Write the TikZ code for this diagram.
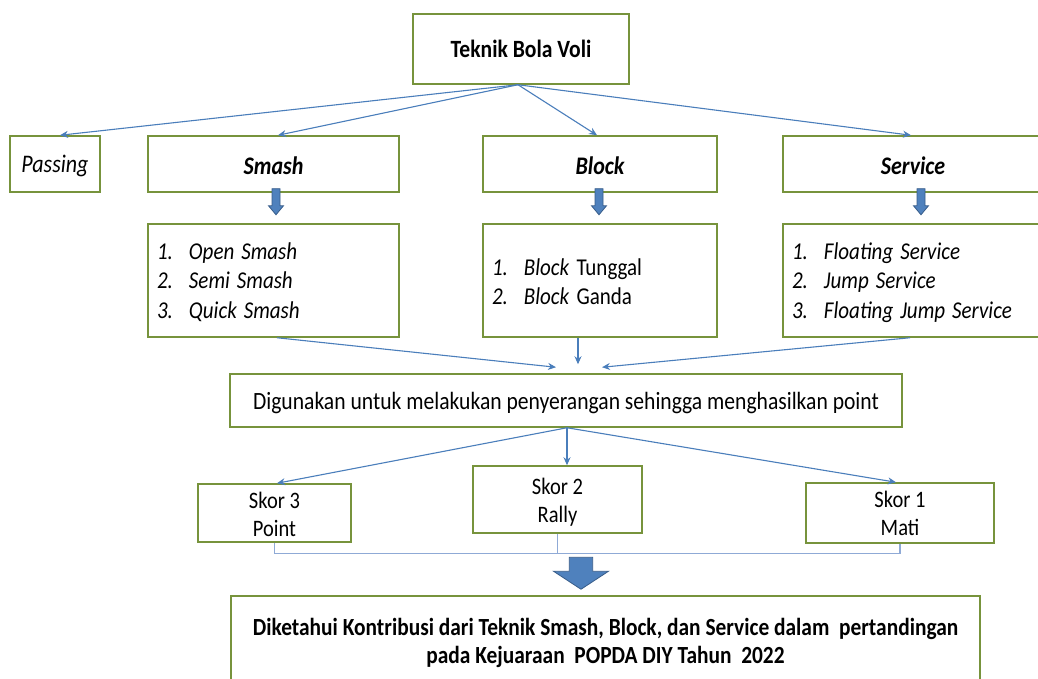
\documentclass[tikz,border=0pt]{standalone}
\usepackage{fontspec}
\setmainfont{Carlito}
\usepackage{graphicx}
\usetikzlibrary{arrows.meta,calc}
\definecolor{boxgreen}{RGB}{119,147,60}
\definecolor{linkblue}{RGB}{74,126,187}
\definecolor{fatblue}{RGB}{79,129,189}
\definecolor{fatedge}{RGB}{56,93,138}
\definecolor{bracketblue}{RGB}{143,170,214}
\newcommand\tx[2][3pt]{\raisebox{-#1}[\height][\depth]{\scalebox{1}[1.15]{#2}}}
\newcommand\itm[2]{\makebox[32pt][l]{\itshape #1}#2}
\begin{document}
\begin{tikzpicture}[x=1pt,y=-1pt,
  box/.style={draw=boxgreen, line width=1.5pt, inner sep=0pt, rectangle, fill=white,
    font=\fontsize{20.5}{24.5}\selectfont},
  link/.style={draw=linkblue, line width=1.1pt, -{Stealth[length=8pt,width=7pt]}},
  fatarrow/.style={fill=fatblue, draw=fatedge, line width=0.8pt},
  bracket/.style={draw=bracketblue, line width=1.1pt},
  listfont/.style={font=\fontsize{21}{25.65}\selectfont},
  headfont/.style={font=\fontsize{22}{24}\selectfont\bfseries\itshape}
]
\clip (0,0) rectangle (1038,679);
\fill[white] (0,0) rectangle (1038,679);

% top
\node[box, minimum width=216, minimum height=70, font=\fontsize{21.6}{24}\selectfont\bfseries] (top) at (521,49) {\tx[0pt]{Teknik Bola Voli}};

% second row
\node[box, minimum width=90, minimum height=56, font=\fontsize{22}{24}\selectfont\itshape] (passing) at (55,164) {\tx[2pt]{Passing}};
\node[box, minimum width=251, minimum height=56, headfont] (smash) at (273.5,164) {\tx[1.5pt]{Smash}};
\node[box, minimum width=234, minimum height=56, headfont] (block) at (600,164) {\tx[1.5pt]{Block}};
\node[box, minimum width=260, minimum height=56, headfont] (service) at (913,164) {\tx[1.5pt]{Service}};

% lists
\node[box, listfont, minimum width=251, minimum height=113, text width=233, align=left] (smashlist) at (273.5,280.5)
  {\tx[2.5pt]{\begin{tabular}{@{}l@{}}\itm{1.}{\textit{Open Smash}}\\\itm{2.}{\textit{Semi Smash}}\\\itm{3.}{\textit{Quick Smash}}\end{tabular}}};
\node[box, listfont, minimum width=234, minimum height=113, text width=216, align=left] (blocklist) at (600,280.5)
  {\tx[3.5pt]{\begin{tabular}{@{}l@{}}\itm{1.}{\textit{Block} Tunggal}\\\itm{2.}{\textit{Block} Ganda}\end{tabular}}};
\node[box, listfont, minimum width=260, minimum height=113, text width=242, align=left] (servicelist) at (913,280.5)
  {\tx[2.5pt]{\begin{tabular}{@{}l@{}}\itm{1.}{\textit{Floating Service}}\\\itm{2.}{\textit{Jump Service}}\\\itm{3.}{\textit{Floating Jump Service}}\end{tabular}}};

% middle
\node[box, minimum width=672, minimum height=53, font=\fontsize{21.6}{24.5}\selectfont] (dig) at (566,400.5)
  {\tx{Digunakan untuk melakukan penyerangan sehingga menghasilkan point}};

% scores
\node[box, minimum width=153, minimum height=58] (s3) at (274.5,513)
  {\tx[4pt]{\begin{tabular}{@{}c@{}}Skor 3\\Point\end{tabular}}};
\node[box, minimum width=169, minimum height=67] (s2) at (557.5,499.5)
  {\tx[3pt]{\begin{tabular}{@{}c@{}}Skor 2\\Rally\end{tabular}}};
\node[box, minimum width=188, minimum height=60] (s1) at (900,513)
  {\tx[2.5pt]{\begin{tabular}{@{}c@{}}Skor 1\\Mati\end{tabular}}};

% bottom
\node[box, minimum width=749, minimum height=90, font=\fontsize{21.4}{24.5}\selectfont\bfseries] (result) at (605.5,641)
  {\tx{\begin{tabular}{@{}c@{}}Diketahui Kontribusi dari Teknik Smash, Block, dan Service dalam\ \ pertandingan\\pada Kejuaraan\ \ POPDA DIY Tahun\ \ 2022\end{tabular}}};

% connectors from top
\draw[link] ($(top.south)+(-3,0)$) -- ($(passing.north)+(5,0)$);
\draw[link] ($(top.south)+(-3,0)$) -- ($(smash.north)+(4.5,0)$);
\draw[link] ($(top.south)+(-3,0)$) -- ($(block.north)+(-3,0)$);
\draw[link] ($(top.south)+(-3,0)$) -- ($(service.north)+(-2,0)$);

% fat arrows
\filldraw[fatarrow, shift={($(smash.south)+(2.5,-4)$)}] (-4,0) -- (4,0) -- (4,17) -- (7.5,17) -- (0,26) -- (-7.5,17) -- (-4,17) -- cycle;
\filldraw[fatarrow, shift={($(block.south)+(-1,-4)$)}] (-4,0) -- (4,0) -- (4,17) -- (7.5,17) -- (0,26) -- (-7.5,17) -- (-4,17) -- cycle;
\filldraw[fatarrow, shift={($(service.south)+(8,-4)$)}] (-4,0) -- (4,0) -- (4,17) -- (7.5,17) -- (0,26) -- (-7.5,17) -- (-4,17) -- cycle;

% lists to middle
\draw[link] ($(smashlist.south)+(3.5,0)$) -- ($(dig.north)+(-10,-6)$);
\draw[link] ($(blocklist.south)+(-22,0)$) -- ($(dig.north)+(12,-9)$);
\draw[link] ($(servicelist.south)+(-3,0)$) -- ($(dig.north)+(36,-6)$);

% middle to scores
\draw[link] ($(dig.south)+(1,0)$) -- ($(s3.north)+(2.5,0)$);
\draw[link] ($(dig.south)+(1,0)$) -- ($(s2.north)+(9.5,0)$);
\draw[link] ($(dig.south)+(1,0)$) -- ($(s1.north)+(-4,0)$);

% bracket
\coordinate (bl) at ($(s3.south)+(0,11)$);
\draw[bracket] (s3.south) -- (bl) -| (s1.south);
\draw[bracket] (s2.south) -- (s2.south |- bl);

% big arrow
\filldraw[fatarrow, shift={($(result.north)+(-24.5,-38)$)}] (-11.7,0) -- (11.7,0) -- (11.7,14) -- (27.5,14) -- (0,32) -- (-27.5,14) -- (-11.7,14) -- cycle;
\end{tikzpicture}
\end{document}
